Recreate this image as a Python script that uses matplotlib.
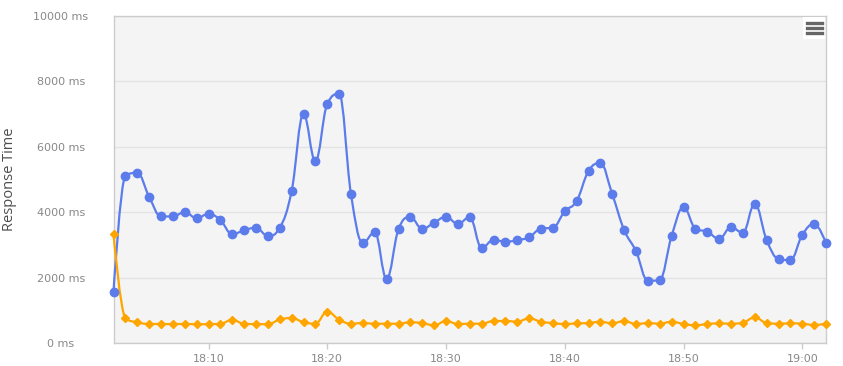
import numpy as np
import matplotlib
matplotlib.use("Agg")
import matplotlib.pyplot as plt
from matplotlib.path import Path
from matplotlib.patches import PathPatch, Rectangle

# one point per minute, 18:02 .. 19:02
start_minute = 2
tick_minutes = [10, 20, 30, 40, 50, 60]
tick_labels = ["18:10", "18:20", "18:30", "18:40", "18:50", "19:00"]
y_ticks = [0, 2000, 4000, 6000, 8000, 10000]

blue_ms = [1565, 5110, 5205, 4470, 3870, 3870, 4005, 3815, 3950, 3760,
           3325, 3450, 3525, 3272, 3525, 4648, 7003, 5560, 7309, 7615,
           4550, 3065, 3390, 1962, 3480, 3850, 3490, 3680, 3860, 3640,
           3850, 2905, 3155, 3095, 3145, 3235, 3500, 3525, 4030, 4340,
           5260, 5500, 4550, 3456, 2808, 1900, 1930, 3272, 4155, 3500,
           3405, 3185, 3542, 3370, 4262, 3150, 2569, 2534, 3303, 3644,
           3058]
orange_ms = [3333, 765, 633, 581, 581, 578, 584, 572, 578, 584,
             713, 584, 578, 575, 719, 765, 633, 590, 958, 713,
             590, 612, 590, 590, 590, 633, 610, 540, 673, 580,
             590, 590, 673, 673, 652, 754, 652, 610, 580, 600,
             610, 652, 600, 673, 580, 610, 590, 652, 580, 540,
             580, 600, 590, 620, 785, 610, 590, 600, 590, 550,
             590]

BLUE = "#5b7cea"
ORANGE = "#ffa500"


def spline_path(xs, ys, smoothing=1.5):
    # highcharts-like spline through the points (cubic bezier segments)
    n = len(xs)
    denom = smoothing + 1
    left = [(xs[0], ys[0])] * n
    right = [(xs[0], ys[0])] * n
    for i in range(n):
        x, y = xs[i], ys[i]
        if i == 0 or i == n - 1:
            left[i] = (x, y)
            right[i] = (x, y)
            continue
        lx, ly = xs[i - 1], ys[i - 1]
        nx, ny = xs[i + 1], ys[i + 1]
        lcx = (smoothing * x + lx) / denom
        lcy = (smoothing * y + ly) / denom
        rcx = (smoothing * x + nx) / denom
        rcy = (smoothing * y + ny) / denom
        corr = (rcy - lcy) * (rcx - x) / (rcx - lcx) + y - rcy
        lcy += corr
        rcy += corr
        if lcy > ly and lcy > y:
            lcy = max(ly, y)
            rcy = 2 * y - lcy
        elif lcy < ly and lcy < y:
            lcy = min(ly, y)
            rcy = 2 * y - lcy
        if rcy > ny and rcy > y:
            rcy = max(ny, y)
            lcy = 2 * y - rcy
        elif rcy < ny and rcy < y:
            rcy = min(ny, y)
            lcy = 2 * y - rcy
        left[i] = (lcx, lcy)
        right[i] = (rcx, rcy)
    verts = [(xs[0], ys[0])]
    codes = [Path.MOVETO]
    for i in range(1, n):
        verts += [right[i - 1], left[i], (xs[i], ys[i])]
        codes += [Path.CURVE4] * 3
    return Path(verts, codes)


def main():
    x = start_minute + np.arange(len(blue_ms))

    fig = plt.figure(figsize=(8.43, 3.66), dpi=100)
    ax = fig.add_axes([113.5 / 843, 23 / 366, 712.5 / 843, 327 / 366])
    ax.set_facecolor("#f4f4f4")

    for vals, color, marker, ms in [(blue_ms, BLUE, "o", 6),
                                    (orange_ms, ORANGE, "D", 4.2)]:
        ax.add_patch(PathPatch(spline_path(list(x), vals), fill=False,
                               edgecolor=color, lw=1.6, zorder=3,
                               clip_on=False))
        ax.plot(x, vals, linestyle="none", marker=marker, color=color,
                markersize=ms, zorder=4, clip_on=False)

    ax.set_xlim(x[0], x[-1])
    ax.set_ylim(0, 10000)
    ax.set_yticks(y_ticks)
    ax.set_yticklabels([f"{v} ms" for v in y_ticks], ha="center")
    ax.set_xticks(tick_minutes)
    ax.set_xticklabels(tick_labels)
    ax.grid(axis="y", color="#e3e3e3", lw=1)
    ax.set_axisbelow(True)
    # labels are centred about 52px left of the plot
    ax.tick_params(axis="y", length=0, pad=37.8, labelsize=8,
                   labelcolor="#888888")
    ax.tick_params(axis="x", length=4, width=1, color="#cccccc", pad=4,
                   labelsize=8, labelcolor="#888888")
    for side in ax.spines.values():
        side.set_color("#cccccc")
        side.set_linewidth(1)

    ax.set_ylabel("Response Time", family="Open Sans", fontsize=10.5,
                  color="#4d4d4d", va="center")
    ax.yaxis.set_label_coords(-104 / 712.5, 0.5)

    # context menu button in the corner
    fig.patches.append(Rectangle((803 / 843, 1 - 39 / 366), 22 / 843,
                                 22 / 366, transform=fig.transFigure,
                                 facecolor="white", edgecolor="none",
                                 zorder=5))
    for yy in (23, 28, 33):
        fig.lines.append(plt.Line2D([807 / 843, 822 / 843],
                                    [1 - yy / 366, 1 - yy / 366],
                                    transform=fig.transFigure,
                                    color="#666666", lw=2.4, zorder=6))

    fig.savefig("out.png", dpi=100)


if __name__ == "__main__":
    main()
